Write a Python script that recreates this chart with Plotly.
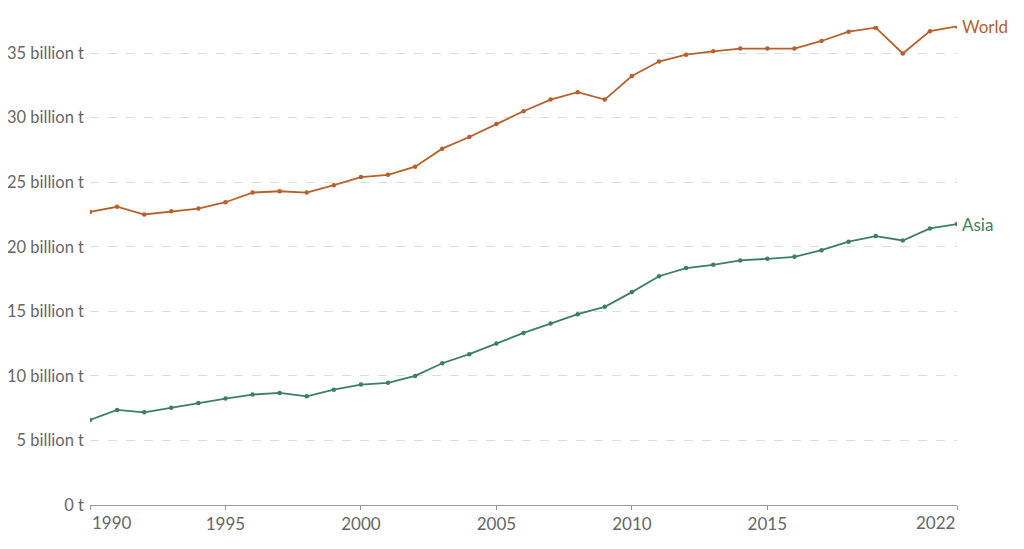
import plotly.graph_objects as go

years = list(range(1990, 2023))
world = [22.7, 23.1, 22.5, 22.75, 22.96, 23.45, 24.2, 24.3, 24.2, 24.77,
         25.4, 25.57, 26.2, 27.6, 28.5, 29.5, 30.5, 31.4, 31.97, 31.4,
         33.23, 34.35, 34.88, 35.14, 35.35, 35.35, 35.35, 35.94, 36.66, 36.97,
         34.97, 36.7, 37.07]
asia = [6.59, 7.36, 7.18, 7.54, 7.9, 8.24, 8.55, 8.68, 8.42, 8.93,
        9.33, 9.46, 10.0, 10.98, 11.68, 12.5, 13.33, 14.05, 14.78, 15.35,
        16.49, 17.72, 18.35, 18.6, 18.94, 19.07, 19.22, 19.74, 20.39, 20.83,
        20.49, 21.42, 21.76]

series = [("World", world, "#b8602c"), ("Asia", asia, "#3c7f63")]
y_ticks = [0, 5, 10, 15, 20, 25, 30, 35]
y_labels = ["0 t"] + [f"{v} billion t" for v in y_ticks[1:]]
x_ticks = [1990, 1995, 2000, 2005, 2010, 2015, 2022]

FONT = "Lato"
GREY = "#666666"

fig = go.Figure()
for name, vals, col in series:
    fig.add_trace(go.Scatter(
        x=years, y=vals, mode="lines+markers", name=name,
        line=dict(color=col, width=1.8),
        marker=dict(color=col, size=4.5),
        showlegend=False,
    ))
    fig.add_annotation(x=years[-1], y=vals[-1], text=name, showarrow=False,
                       xanchor="left", yanchor="middle", xshift=3,
                       font=dict(family=FONT, size=17, color=col))

# Edge tick labels aligned to the plot edges (first left, last right)
inner_text = ["" if v in (x_ticks[0], x_ticks[-1]) else str(v) for v in x_ticks]
fig.add_annotation(x=x_ticks[0], y=0, yref="paper", text=str(x_ticks[0]),
                   showarrow=False, xanchor="left", yanchor="top", yshift=-5,
                   font=dict(family=FONT, size=17, color=GREY))
fig.add_annotation(x=x_ticks[-1], y=0, yref="paper", text=str(x_ticks[-1]),
                   showarrow=False, xanchor="right", yanchor="top", yshift=-5,
                   font=dict(family=FONT, size=17, color=GREY))

fig.update_layout(
    width=1024, height=549,
    margin=dict(l=82, r=75, t=18, b=52, autoexpand=False),
    paper_bgcolor="white", plot_bgcolor="white",
    font=dict(family=FONT, size=17, color=GREY),
)
fig.update_xaxes(
    range=[1990, 2022], tickvals=x_ticks, ticktext=inner_text,
    showgrid=False, showline=True, linecolor="#999", linewidth=1,
    ticks="outside", ticklen=4, tickcolor="#999", zeroline=False,
    automargin=False,
    tickfont=dict(family=FONT, size=17, color=GREY),
)
fig.update_yaxes(
    range=[0, 37.1], tickvals=y_ticks, ticktext=y_labels,
    showgrid=True, gridcolor="#dddddd", griddash="dash", gridwidth=1,
    zeroline=False, showline=False, ticks="", ticklabelstandoff=5,
    automargin=False,
    tickfont=dict(family=FONT, size=16.5, color=GREY),
)
fig.write_html("out.html")
